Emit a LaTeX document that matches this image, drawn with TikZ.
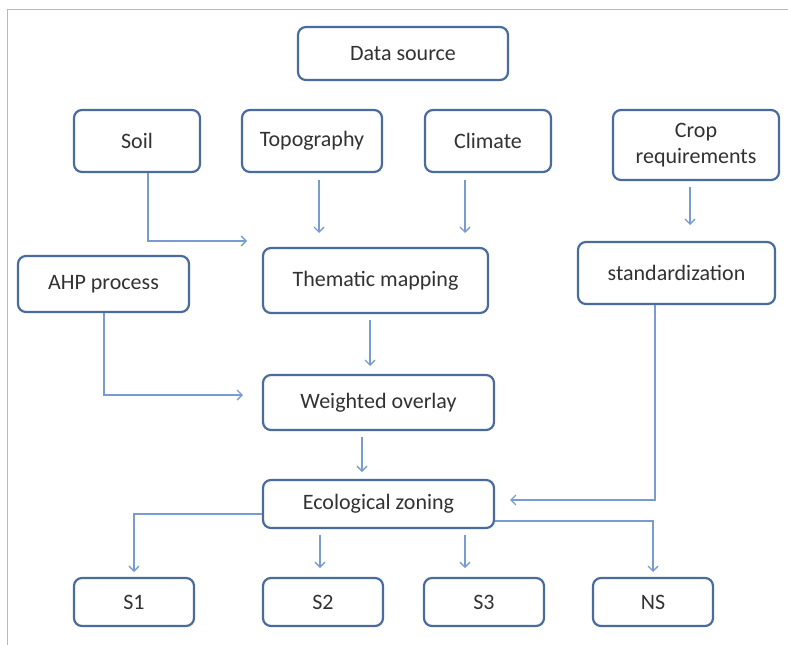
\documentclass[tikz,border=0pt]{standalone}
\usepackage{fontspec}
\setmainfont{Carlito}
\usetikzlibrary{arrows.meta}
\definecolor{boxc}{RGB}{74,108,156}
\definecolor{linec}{RGB}{120,156,208}
\definecolor{txt}{RGB}{50,50,50}
\begin{document}
\begin{tikzpicture}[x=1pt,y=-1pt,
  box/.style={draw=boxc,line width=2.2pt,rounded corners=8pt,fill=white,text=txt,font=\fontsize{22}{26}\selectfont,align=center,inner sep=0pt},
  conn/.style={draw=linec,line width=1.3pt,-{Straight Barb[length=5pt,width=10pt,line width=1.3pt]}}]
\useasboundingbox (0,0) rectangle (788,645);
\draw[gray!55,line width=1pt] (7.5,645) -- (7.5,9.5) -- (788,9.5);
\node[box,minimum width=210pt,minimum height=53pt] (ds) at (403,53.5) {Data source};
\node[box,minimum width=126pt,minimum height=62pt] (soil) at (137,141) {Soil};
\node[box,minimum width=140pt,minimum height=62pt] (topo) at (312,141) {Topography};
\node[box,minimum width=126pt,minimum height=62pt] (clim) at (488,141) {Climate};
\node[box,minimum width=166pt,minimum height=70pt] (crop) at (696,145) {Crop\\requirements};
\node[box,minimum width=171pt,minimum height=56pt] (ahp) at (103.5,284) {AHP process};
\node[box,minimum width=225pt,minimum height=65pt] (them) at (375.5,280.5) {Thematic mapping};
\node[box,minimum width=197pt,minimum height=62pt] (std) at (676.5,273) {standardization};
\node[box,minimum width=231pt,minimum height=55pt] (wo) at (378.5,402.5) {Weighted overlay};
\node[box,minimum width=231pt,minimum height=48pt] (eco) at (378.5,504) {Ecological zoning};
\node[box,minimum width=120pt,minimum height=48pt] (s1) at (134,602) {S1};
\node[box,minimum width=120pt,minimum height=48pt] (s2) at (323,602) {S2};
\node[box,minimum width=120pt,minimum height=48pt] (s3) at (484,602) {S3};
\node[box,minimum width=120pt,minimum height=48pt] (ns) at (653,602) {NS};
% connectors
\coordinate (soilend) at (247,241);
\draw[conn] ([xshift=11pt]soil.south) |- (soilend);
\coordinate (topostart) at (319,180);
\coordinate (topoend) at (319,233);
\draw[conn] (topostart) -- (topoend);
\coordinate (climstart) at (465,180);
\coordinate (climend) at (465,233);
\draw[conn] (climstart) -- (climend);
\coordinate (cropstart) at (690,187);
\coordinate (cropend) at (690,225);
\draw[conn] (cropstart) -- (cropend);
\coordinate (ahpend) at (243,395);
\draw[conn] ([xshift=0.5pt]ahp.south) |- (ahpend);
\coordinate (themstart) at (370,320);
\coordinate (themend) at (370,366);
\draw[conn] (themstart) -- (themend);
\coordinate (wostart) at (362,437);
\coordinate (woend) at (362,472);
\draw[conn] (wostart) -- (woend);
\coordinate (stdend) at (510,500);
\draw[conn] ([xshift=-21.5pt]std.south) |- (stdend);
\coordinate (s1end) at (134,572);
\draw[conn] ([yshift=-10pt]eco.west) -| (s1end);
\coordinate (s2start) at (320,535);
\coordinate (s2end) at (320,568);
\draw[conn] (s2start) -- (s2end);
\coordinate (s3start) at (465,535);
\coordinate (s3end) at (465,568);
\draw[conn] (s3start) -- (s3end);
\coordinate (nsend) at (653,572);
\draw[conn] ([yshift=-17pt]eco.east) -| (nsend);
\end{tikzpicture}
\end{document}
